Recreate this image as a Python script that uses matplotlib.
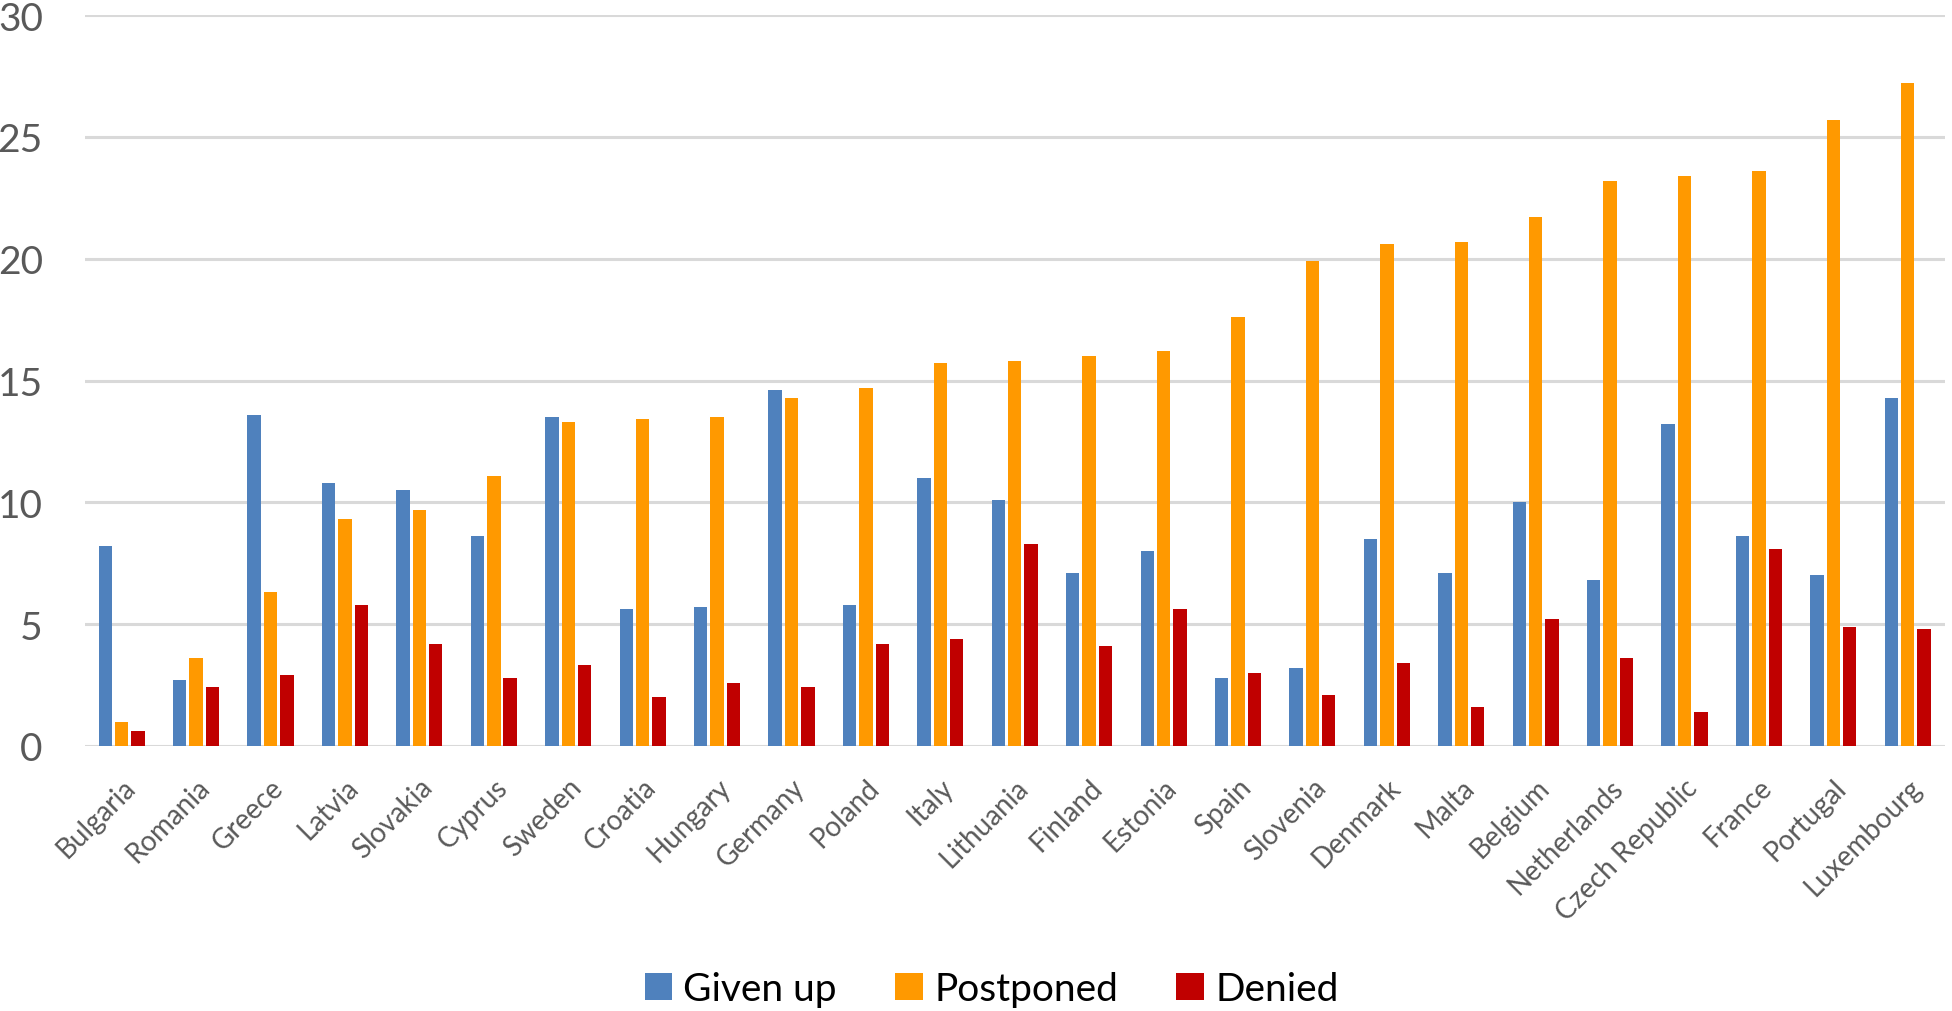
import numpy as np
import matplotlib.pyplot as plt

countries = ["Bulgaria", "Romania", "Greece", "Latvia", "Slovakia", "Cyprus", "Sweden",
             "Croatia", "Hungary", "Germany", "Poland", "Italy", "Lithuania", "Finland",
             "Estonia", "Spain", "Slovenia", "Denmark", "Malta", "Belgium", "Netherlands",
             "Czech Republic", "France", "Portugal", "Luxembourg"]
given_up = [8.2, 2.7, 13.6, 10.8, 10.5, 8.6, 13.5, 5.6, 5.7, 14.6, 5.8, 11.0, 10.1, 7.1,
            8.0, 2.8, 3.2, 8.5, 7.1, 10.0, 6.8, 13.2, 8.6, 7.0, 14.3]
postponed = [1.0, 3.6, 6.3, 9.3, 9.7, 11.1, 13.3, 13.4, 13.5, 14.3, 14.7, 15.7, 15.8, 16.0,
             16.2, 17.6, 19.9, 20.6, 20.7, 21.7, 23.2, 23.4, 23.6, 25.7, 27.2]
denied = [0.6, 2.4, 2.9, 5.8, 4.2, 2.8, 3.3, 2.0, 2.6, 2.4, 4.2, 4.4, 8.3, 4.1, 5.6, 3.0,
          2.1, 3.4, 1.6, 5.2, 3.6, 1.4, 8.1, 4.9, 4.8]
series = ["Given up", "Postponed", "Denied"]
colors = ["#4F81BD", "#FF9900", "#C00000"]

plt.rcParams['font.family'] = ['Lato', 'DejaVu Sans']

fig = plt.figure(figsize=(19.52, 10.12), dpi=100)
ax = fig.add_axes([0.0433, 0.262, 0.9531, 0.722])

x = np.arange(len(countries))
w = 0.18
step = 0.22
for i, (vals, name, c) in enumerate(zip([given_up, postponed, denied], series, colors)):
    ax.bar(x + (i - 1) * step, vals, width=w, color=c, label=name, zorder=3)

ax.set_xlim(-0.5, len(countries) - 0.5)
ax.set_ylim(0, 30)
ax.set_yticks(range(0, 31, 5))
ax.yaxis.grid(True, color="#D9D9D9", linewidth=2.2, zorder=0)
ax.set_axisbelow(True)
for s in ax.spines.values():
    s.set_visible(False)
ax.tick_params(axis='both', length=0, colors="#595959")
ax.tick_params(axis='y', labelsize=28, pad=30)
ax.set_xticks(x)
ax.set_xticklabels(countries, rotation=45, ha='right', va='top', rotation_mode='anchor',
                   fontsize=20, color="#595959")
ax.tick_params(axis='x', pad=20)

fig.legend(loc='center', bbox_to_anchor=(0.508, 0.022), ncol=3, frameon=False,
           fontsize=28, handlelength=0.7, handleheight=0.7, handletextpad=0.3,
           columnspacing=1.5)

fig.savefig("out.png", dpi=100)
